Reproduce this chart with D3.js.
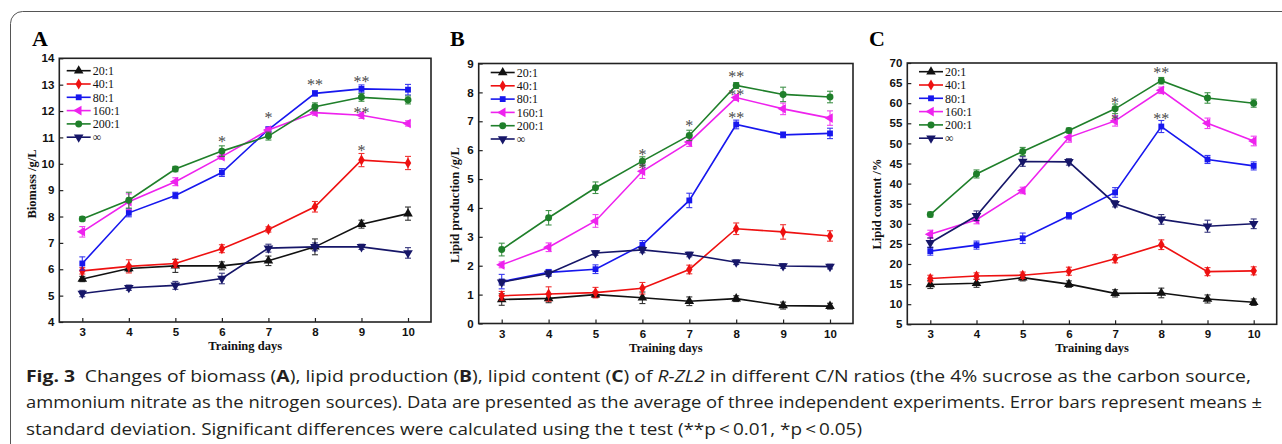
<!DOCTYPE html>
<html>
<head>
<meta charset="utf-8">
<script src="https://cdn.jsdelivr.net/npm/d3@7"></script>
<style>
  html, body { margin: 0; padding: 0; background: #fff; }
  svg { display: block; }
</style>
</head>
<body>
<script>
// C/N ratio series, shared by the three panels
const days = [3, 4, 5, 6, 7, 8, 9, 10];
const ratios = ["20:1", "40:1", "80:1", "160:1", "200:1", "\u221e"];
const colors = ["#111111", "#ee1111", "#1717ee", "#ee22ee", "#1f7f2a", "#161668"];
const shapes = ["up", "diamond", "square", "left", "circle", "down"];

// panel A, biomass g/L (one row per ratio)
const biomassMean = [
  [5.63, 6.03, 6.13, 6.13, 6.32, 6.85, 7.71, 8.11],
  [5.94, 6.11, 6.22, 6.78, 7.51, 8.37, 10.14, 10.03],
  [6.22, 8.14, 8.80, 9.67, 11.30, 12.67, 12.84, 12.81],
  [7.42, 8.56, 9.32, 10.27, 11.28, 11.94, 11.84, 11.53],
  [7.91, 8.62, 9.80, 10.48, 11.05, 12.16, 12.52, 12.42],
  [5.08, 5.30, 5.39, 5.65, 6.80, 6.85, 6.85, 6.62]
];
const biomassErr = [
  [0.10, 0.12, 0.25, 0.15, 0.18, 0.30, 0.15, 0.25],
  [0.12, 0.25, 0.15, 0.15, 0.10, 0.20, 0.25, 0.25],
  [0.25, 0.15, 0.12, 0.15, 0.10, 0.10, 0.15, 0.20],
  [0.20, 0.30, 0.15, 0.10, 0.10, 0.10, 0.12, 0.10],
  [0.08, 0.30, 0.10, 0.20, 0.15, 0.15, 0.15, 0.15],
  [0.12, 0.10, 0.15, 0.20, 0.15, 0.15, 0.10, 0.20]
];
const biomassStars = [
  { day: 6, y: 10.95, text: "*" }, { day: 7, y: 11.85, text: "*" },
  { day: 8, y: 13.1, text: "**" }, { day: 9, y: 13.2, text: "**" },
  { day: 9, y: 12.05, text: "**" }, { day: 9, y: 10.6, text: "*" }
];

// panel B, lipid production g/L
const lipidMean = [
  [0.83, 0.87, 1.00, 0.89, 0.77, 0.86, 0.62, 0.60],
  [0.96, 1.02, 1.07, 1.22, 1.87, 3.28, 3.17, 3.03],
  [1.45, 1.77, 1.88, 2.72, 4.26, 6.89, 6.53, 6.58],
  [2.03, 2.64, 3.55, 5.27, 6.28, 7.82, 7.43, 7.11],
  [2.56, 3.66, 4.70, 5.62, 6.51, 8.24, 7.93, 7.84],
  [1.43, 1.73, 2.44, 2.55, 2.39, 2.12, 1.99, 1.97]
];
const lipidErr = [
  [0.20, 0.15, 0.10, 0.20, 0.15, 0.10, 0.12, 0.10],
  [0.15, 0.25, 0.18, 0.20, 0.15, 0.20, 0.25, 0.18],
  [0.25, 0.10, 0.15, 0.15, 0.25, 0.15, 0.10, 0.18],
  [0.10, 0.15, 0.22, 0.25, 0.15, 0.10, 0.20, 0.25],
  [0.22, 0.25, 0.20, 0.15, 0.18, 0.10, 0.25, 0.20],
  [0.10, 0.10, 0.08, 0.10, 0.08, 0.08, 0.08, 0.08]
];
const lipidStars = [
  { day: 6, y: 5.95, text: "*" }, { day: 6, y: 5.45, text: "*" },
  { day: 7, y: 6.95, text: "*" }, { day: 8, y: 8.62, text: "**" },
  { day: 8, y: 8.0, text: "**" }, { day: 8, y: 7.22, text: "**" }
];

// panel C, lipid content %
const contentMean = [
  [14.9, 15.2, 16.6, 15.0, 12.7, 12.8, 11.3, 10.5],
  [16.4, 17.0, 17.2, 18.2, 21.3, 24.8, 18.1, 18.3],
  [23.2, 24.7, 26.4, 32.0, 37.8, 54.2, 46.0, 44.4],
  [27.4, 31.0, 38.3, 51.5, 55.6, 63.2, 55.0, 50.6],
  [32.3, 42.4, 48.0, 53.2, 58.6, 65.6, 61.3, 60.0],
  [25.3, 32.0, 45.5, 45.4, 35.0, 31.1, 29.4, 30.0]
];
const contentErr = [
  [1.0, 1.0, 0.8, 0.8, 0.9, 1.2, 1.0, 0.8],
  [0.8, 0.8, 0.8, 1.0, 1.0, 1.2, 1.0, 1.0],
  [1.0, 1.0, 1.3, 0.8, 1.2, 1.5, 1.0, 1.0],
  [1.0, 1.0, 0.8, 1.2, 1.3, 0.8, 1.3, 1.2],
  [0.6, 1.0, 1.0, 0.6, 1.2, 0.8, 1.3, 1.0],
  [1.2, 1.2, 1.2, 0.8, 0.8, 1.2, 1.5, 1.2]
];
const contentStars = [
  { day: 7, y: 60.9, text: "*" }, { day: 7, y: 56.6, text: "*" },
  { day: 8, y: 68.3, text: "**" }, { day: 8, y: 56.8, text: "**" }
];

const panels = [
  { letter: "A", means: biomassMean, errs: biomassErr, stars: biomassStars,
    yDomain: [4, 14], yTicks: d3.range(4, 15, 1), title: "Biomass /g/L",
    left: 59.3, right: 431, top: 58.3, bottom: 322, lx: 7.4, ly: 12.4,
    labelX: 32, titleX: 36, titleY: 184 },
  { letter: "B", means: lipidMean, errs: lipidErr, stars: lipidStars,
    yDomain: [0, 9], yTicks: d3.range(0, 10, 1), title: "Lipid production /g/L",
    left: 478.7, right: 853, top: 63.5, bottom: 323.5, lx: 12, ly: 9,
    labelX: 450, titleX: 459, titleY: 205 },
  { letter: "C", means: contentMean, errs: contentErr, stars: contentStars,
    yDomain: [5, 70], yTicks: d3.range(5, 71, 5), title: "Lipid content /%",
    left: 907.3, right: 1276.7, top: 63, bottom: 324.3, lx: 11.7, ly: 8.7,
    labelX: 869, titleX: 881, titleY: 204 }
];

const width = 1282, height = 444;
const svg = d3.select("body").append("svg")
    .attr("width", width)
    .attr("height", height);

// rounded figure box
svg.append("rect")
    .attr("x", 10.5).attr("y", 11.5)
    .attr("width", 1400).attr("height", 600)
    .attr("rx", 12)
    .attr("fill", "none")
    .attr("stroke", "#555")
    .attr("stroke-width", 1);

function markerPath(shape) {
  if (shape === "square") return d3.symbol(d3.symbolSquare, 34)();
  if (shape === "circle") return d3.symbol(d3.symbolCircle, 38)();
  if (shape === "diamond") return d3.symbol(d3.symbolDiamond, 36)();
  return d3.symbol(d3.symbolTriangle, 40)();
}
function markerRotate(shape) {
  if (shape === "left") return -90;
  if (shape === "down") return 180;
  return 0;
}

panels.forEach(function(p) {
  const x = d3.scaleLinear().domain([3, 10]).range([p.left + 23, p.right - 23]);
  const y = d3.scaleLinear().domain(p.yDomain).range([p.bottom, p.top]);
  const g = svg.append("g");

  g.append("text")
      .attr("x", p.labelX).attr("y", 46)
      .attr("font-family", "Liberation Serif, Times New Roman, serif")
      .attr("font-weight", "bold")
      .attr("font-size", 22)
      .text(p.letter);

  const yAxis = g.append("g")
      .attr("transform", "translate(" + p.left + ",0)")
      .call(d3.axisLeft(y).tickValues(p.yTicks).tickSizeInner(-4).tickSizeOuter(0).tickPadding(5));
  const xAxis = g.append("g")
      .attr("transform", "translate(0," + p.bottom + ")")
      .call(d3.axisBottom(x).tickValues(days).tickSizeInner(-4).tickSizeOuter(0).tickPadding(6).tickFormat(d3.format("d")));
  [yAxis, xAxis].forEach(function(a) {
    a.select(".domain").remove();
    a.selectAll(".tick line").attr("stroke", "#222").attr("stroke-width", 1.2);
    a.selectAll(".tick text")
        .attr("fill", "#111")
        .attr("font-family", "Liberation Sans, Arial, sans-serif")
        .attr("font-weight", "bold")
        .attr("font-size", 11.5);
  });

  g.append("rect")
      .attr("x", p.left).attr("y", p.top)
      .attr("width", p.right - p.left).attr("height", p.bottom - p.top)
      .attr("fill", "none")
      .attr("stroke", "#222")
      .attr("stroke-width", 1.6);

  g.append("text")
      .attr("x", (p.left + p.right) / 2).attr("y", p.bottom + 28)
      .attr("text-anchor", "middle")
      .attr("font-family", "Liberation Serif, Times New Roman, serif")
      .attr("font-weight", "bold")
      .attr("font-size", 12.5)
      .attr("fill", "#111")
      .text("Training days");

  g.append("text")
      .attr("transform", "translate(" + p.titleX + "," + p.titleY + ") rotate(-90)")
      .attr("text-anchor", "middle")
      .attr("font-family", "Liberation Serif, Times New Roman, serif")
      .attr("font-weight", "bold")
      .attr("font-size", 12.5)
      .attr("fill", "#111")
      .text(p.title);

  // series
  const line = d3.line().x(function(d) { return x(d.day); }).y(function(d) { return y(d.v); });
  ratios.forEach(function(r, i) {
    const pts = days.map(function(d, j) { return { day: d, v: p.means[i][j], e: p.errs[i][j] }; });
    const s = g.append("g");
    s.append("path")
        .attr("d", line(pts))
        .attr("fill", "none")
        .attr("stroke", colors[i])
        .attr("stroke-width", 1.6);
    const eb = s.selectAll(".err").data(pts).enter().append("g").attr("class", "err")
        .attr("stroke", colors[i]).attr("stroke-width", 1.1).attr("opacity", 0.85);
    eb.append("line")
        .attr("x1", function(d) { return x(d.day); }).attr("x2", function(d) { return x(d.day); })
        .attr("y1", function(d) { return y(d.v - d.e); }).attr("y2", function(d) { return y(d.v + d.e); });
    eb.append("line")
        .attr("x1", function(d) { return x(d.day) - 3; }).attr("x2", function(d) { return x(d.day) + 3; })
        .attr("y1", function(d) { return y(d.v + d.e); }).attr("y2", function(d) { return y(d.v + d.e); });
    eb.append("line")
        .attr("x1", function(d) { return x(d.day) - 3; }).attr("x2", function(d) { return x(d.day) + 3; })
        .attr("y1", function(d) { return y(d.v - d.e); }).attr("y2", function(d) { return y(d.v - d.e); });
    s.selectAll(".mk").data(pts).enter().append("path")
        .attr("class", "mk")
        .attr("d", markerPath(shapes[i]))
        .attr("transform", function(d) {
          return "translate(" + x(d.day) + "," + y(d.v) + ") rotate(" + markerRotate(shapes[i]) + ")";
        })
        .attr("fill", colors[i]);
  });

  // significance marks
  g.selectAll(".star").data(p.stars).enter().append("text")
      .attr("x", function(d) { return x(d.day); })
      .attr("y", function(d) { return y(d.y) + 8; })
      .attr("text-anchor", "middle")
      .attr("font-family", "Liberation Serif, Times New Roman, serif")
      .attr("font-size", 16)
      .attr("fill", "#4a4a4a")
      .text(function(d) { return d.text; });

  // legend
  const lg = g.append("g").attr("transform", "translate(" + (p.left + p.lx) + "," + (p.top + p.ly) + ")");
  ratios.forEach(function(r, i) {
    const row = lg.append("g").attr("transform", "translate(0," + (i * 13.3) + ")");
    row.append("line").attr("x1", 0).attr("x2", 24).attr("y1", 0).attr("y2", 0)
        .attr("stroke", colors[i]).attr("stroke-width", 1.6);
    row.append("path")
        .attr("d", markerPath(shapes[i]))
        .attr("transform", "translate(12,0) rotate(" + markerRotate(shapes[i]) + ")")
        .attr("fill", colors[i]);
    row.append("text")
        .attr("x", 26).attr("y", 4.2)
        .attr("font-family", "Liberation Serif, Times New Roman, serif")
        .attr("font-size", 12)
        .attr("fill", "#111")
        .text(r);
  });
});

// caption
const cap = svg.append("g")
    .attr("font-family", "Open Sans, Noto Sans, sans-serif")
    .attr("font-size", 16)
    .attr("fill", "#231f20");

const l1 = cap.append("text").attr("x", 26).attr("y", 381.5)
    .attr("textLength", 1225).attr("lengthAdjust", "spacingAndGlyphs");
l1.append("tspan").attr("font-weight", "bold").text("Fig. 3");
l1.append("tspan").text("\u2002Changes of biomass (");
l1.append("tspan").attr("font-weight", "bold").text("A");
l1.append("tspan").text("), lipid production (");
l1.append("tspan").attr("font-weight", "bold").text("B");
l1.append("tspan").text("), lipid content (");
l1.append("tspan").attr("font-weight", "bold").text("C");
l1.append("tspan").text(") of ");
l1.append("tspan").attr("font-style", "italic").text("R-ZL2");
l1.append("tspan").text(" in different C/N ratios (the 4% sucrose as the carbon source,");

cap.append("text").attr("x", 26).attr("y", 408)
    .attr("textLength", 1236).attr("lengthAdjust", "spacingAndGlyphs")
    .text("ammonium nitrate as the nitrogen sources). Data are presented as the average of three independent experiments. Error bars represent means \u00b1");

cap.append("text").attr("x", 26).attr("y", 434.5)
    .attr("textLength", 836).attr("lengthAdjust", "spacingAndGlyphs")
    .text("standard deviation. Significant differences were calculated using the t test (**p\u2009<\u20090.01, *p\u2009<\u20090.05)");
</script>
</body>
</html>
